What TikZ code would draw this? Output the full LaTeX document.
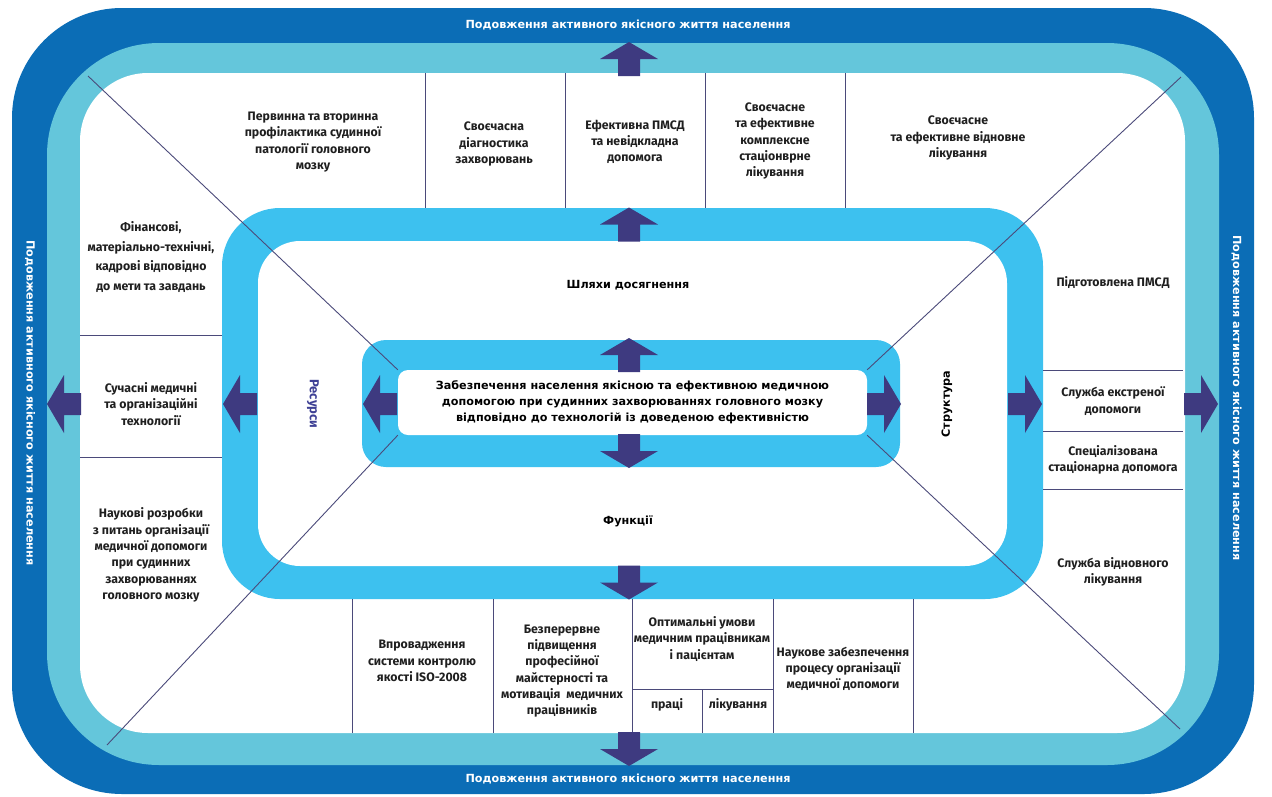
\documentclass[tikz,border=0pt]{standalone}
\usepackage{fontspec}
\setmainfont{Fira Sans}
\newfontfamily\widefont{DejaVu Sans}
\definecolor{bandDark}{HTML}{0B6DB6}
\definecolor{bandLight}{HTML}{64C6DB}
\definecolor{ringBlue}{HTML}{3DC1EF}
\definecolor{arrowPurple}{HTML}{3E3A80}
\definecolor{ruleLine}{HTML}{4B4A7A}
\definecolor{resColor}{HTML}{3E4095}
\begin{document}
\begin{tikzpicture}[x=1pt,y=-1pt,
  lbl/.style={font=\bfseries\fontsize{12.3}{16.3}\selectfont, align=center, text=black!88, inner sep=0pt},
  lblwide/.style={lbl, font=\bfseries\fontsize{12.3}{19.6}\selectfont},
  head/.style={font=\widefont\bfseries\fontsize{11.2}{14}\selectfont, align=center, text=black, inner sep=0pt},
  band/.style={font=\widefont\bfseries\fontsize{11.2}{13}\selectfont, text=white, inner sep=0pt},
  sep/.style={draw=ruleLine, line width=0.8pt},
  diag/.style={draw=ruleLine, line width=0.9pt},
  fatarrow/.pic={\fill[arrowPurple] (-17,-11) -- (0,-11) -- (0,-29) -- (17,0) -- (0,29) -- (0,11) -- (-17,11) -- cycle;}
]
\useasboundingbox (0,0) rectangle (1272,796);
\fill[white] (0,0) rectangle (1272,796);

% outer frame: dark band, light band, white field
\fill[bandDark, rounded corners=110pt] (12,8) rectangle (1254,794);
\fill[bandLight, rounded corners=112pt] (47,43) rectangle (1219,765);
\fill[white, rounded corners=68pt] (80,73) rectangle (1185,733);

% middle ring
\fill[ringBlue, rounded corners=58pt] (222,208) rectangle (1043,599);
\fill[white, rounded corners=42pt] (258,241) rectangle (1007,566);

% inner ring
\fill[ringBlue, rounded corners=24pt] (362,340) rectangle (900,467);
\node[fill=white, rounded corners=10pt, minimum width=469pt, minimum height=65pt, inner sep=0pt,
      font=\widefont\bfseries\fontsize{11.2}{16}\selectfont, align=center, text=black] (core) at (632.5,402.5)
  {Забезпечення населення якісною та ефективною медичною\\
   допомогою при судинних захворюваннях головного мозку\\
   відповідно до технологій із доведеною ефективністю};

% diagonal rays from the core to the frame corners
\coordinate (cTL) at (88,76);
\coordinate (cTR) at (1181,77);
\coordinate (cBL) at (107,745);
\coordinate (cBR) at (1180,729);
\draw[diag] (core.north west) -- (cTL);
\draw[diag] (core.north east) -- (cTR);
\draw[diag] (core.south west) -- (cBL);
\draw[diag] (core.south east) -- (cBR);

% top row separators
\foreach \x in {425,565,705,845} \draw[sep] (\x,73) -- (\x,208);
% bottom row separators
\foreach \x in {352,493,632,773,913} \draw[sep] (\x,599) -- (\x,733);
\draw[sep] (632,689) -- (773,689);
\draw[sep] (702,689) -- (702,733);
% left column separators
\draw[sep] (80,335) -- (222,335);
\draw[sep] (80,457) -- (222,457);
% right column separators
\draw[sep] (1043,370) -- (1183,370);
\draw[sep] (1043,431) -- (1183,431);
\draw[sep] (1043,489) -- (1183,489);

% arrows
\pic[rotate=90] (aUp1) at (629,355) {fatarrow};
\pic[rotate=90] (aUp2) at (629,224.5) {fatarrow};
\pic[rotate=90] (aUp3) at (629,59) {fatarrow};
\pic[rotate=-90] (aDn1) at (629,451) {fatarrow};
\pic[rotate=-90] (aDn2) at (629,582.5) {fatarrow};
\pic[rotate=-90] (aDn3) at (629,749) {fatarrow};
\pic[rotate=180] (aLf1) at (380,404) {fatarrow};
\pic[rotate=180] (aLf2) at (240,404) {fatarrow};
\pic[rotate=180] (aLf3) at (64,404) {fatarrow};
\pic (aRt1) at (884,404) {fatarrow};
\pic (aRt2) at (1025,404) {fatarrow};
\pic (aRt3) at (1201,404) {fatarrow};

% band captions
\node[band] (bTop) at (628,25) {Подовження активного якісного життя населення};
\node[band] (bBot) at (628,779) {Подовження активного якісного життя населення};
\node[band, rotate=-90] (bLeft) at (30,403) {Подовження активного якісного життя населення};
\node[band, rotate=-90] (bRight) at (1236.5,398) {Подовження активного якісного життя населення};

% headings of the middle ring
\node[head] (ways) at (628,285) {Шляхи досягнення};
\node[head] (func) at (628,521) {Функції};
\node[lbl, font=\bfseries\fontsize{13}{15}\selectfont, rotate=-90, text=resColor] (res) at (313,404) {Ресурси};
\node[head, rotate=90] (struct) at (947,404) {Структура};

% top row
\node[lbl] (t1) at (313,142) {Первинна та вторинна\\профілактика судинної\\патології головного\\мозку};
\node[lbl] (t2) at (494,144) {Своєчасна\\діагностика\\захворювань};
\node[lbl] (t3) at (635,142) {Ефективна ПМСД\\та невідкладна\\допомога};
\node[lbl] (t4) at (775,141) {Своєчасне\\та ефективне\\комплексне\\стаціонврне\\лікування};
\node[lbl] (t5) at (958,138) {Своєчасне\\та ефективне відновне\\лікування};

% left column
\node[lblwide] (l1) at (151,257) {Фінансові,\\матеріально-технічні,\\кадрові відповідно\\до мети та завдань};
\node[lbl] (l2) at (151,404) {Сучасні медичні\\та організаційні\\технології};
\node[lbl] (l3) at (151,555) {Наукові розробки\\з питань організації\\медичної допомоги\\при судинних\\захворюваннях\\головного мозку};

% right column
\node[lbl] (r1) at (1113,283) {Підготовлена ПМСД};
\node[lbl] (r2) at (1113,401) {Служба екстреної\\допомоги};
\node[lbl] (r3) at (1113,460) {Спеціалізована\\стаціонарна допомога};
\node[lbl] (r4) at (1113,572) {Служба відновного\\лікування};

% bottom row
\node[lbl] (b1) at (422,661) {Впровадження\\системи контролю\\якості ISO-2008};
\node[lbl] (b2) at (562,671) {Безперервне\\підвищення\\професійної\\майстерності та\\мотивація~ медичних\\працівників};
\node[lbl] (b3) at (702,639) {Оптимальні умови\\медичним працівникам\\і пацієнтам};
\node[lbl] (b3a) at (667,705) {праці};
\node[lbl] (b3b) at (738,705) {лікування};
\node[lbl] (b4) at (843,669) {Наукове забезпечення\\процесу організації\\медичної допомоги};
\end{tikzpicture}
\end{document}
